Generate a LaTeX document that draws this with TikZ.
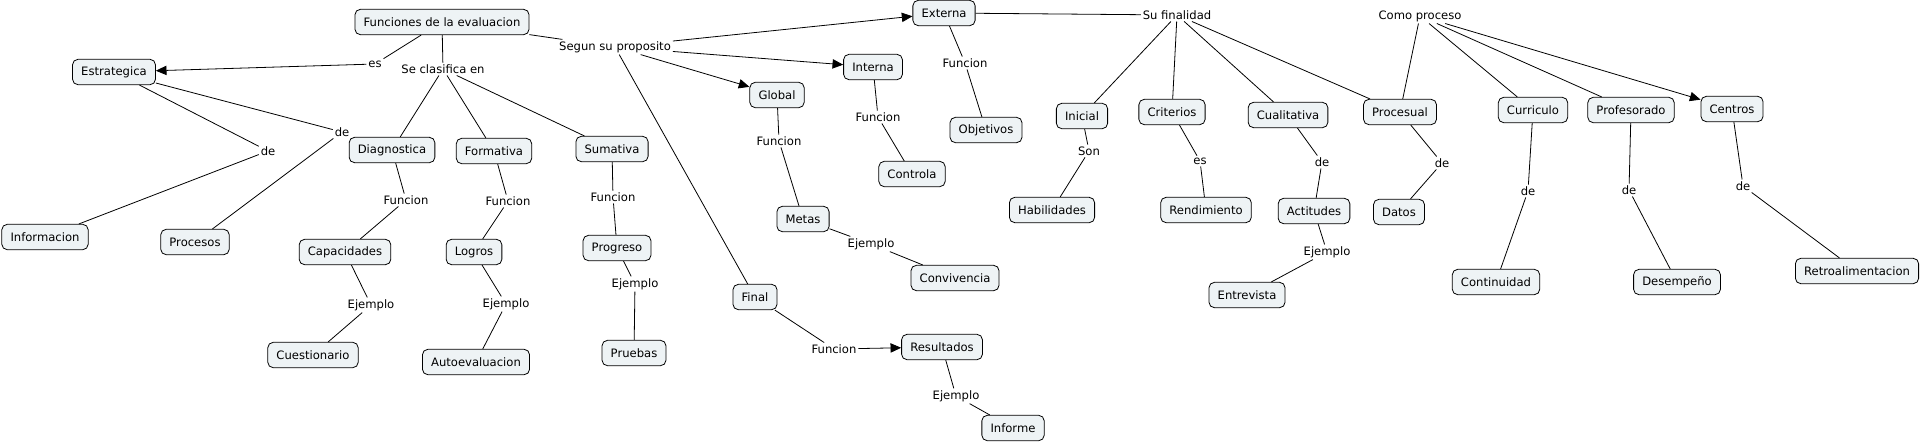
\documentclass[tikz,border=0pt]{standalone}
\usepackage{fontspec}
\setmainfont{DejaVu Sans}
\usetikzlibrary{arrows.meta}
\definecolor{conceptfill}{HTML}{EEF3F5}
\tikzset{
  concept/.style={draw, rounded corners=4pt, fill=conceptfill, inner xsep=6.5pt,
    inner ysep=2pt, minimum height=19pt, font=\fontsize{8.7}{10}\selectfont},
  linkword/.style={inner sep=1.2pt, font=\fontsize{8.7}{10}\selectfont},
  link/.style={draw, line width=0.6pt},
  tip/.style={-{Triangle[length=8pt, width=7pt]}}
}

\begin{document}
\begin{tikzpicture}[x=0.75pt, y=-0.75pt, line width=0.6pt]
    \useasboundingbox (0,0) rectangle (1922,444);

    % concepts
    \node [concept] (fun) at (442 , 22) {Funciones de la evaluacion};
    \node [concept] (estr) at (114 , 72) {Estrategica};
    \node [concept] (info) at (45 , 237) {Informacion};
    \node [concept] (proc) at (195 , 242) {Procesos};
    \node [concept] (diag) at (392 , 150) {Diagnostica};
    \node [concept] (form) at (494 , 151) {Formativa};
    \node [concept] (sum) at (612 , 149) {Sumativa};
    \node [concept] (capa) at (345 , 252) {Capacidades};
    \node [concept] (logr) at (474 , 252) {Logros};
    \node [concept] (prog) at (617 , 248) {Progreso};
    \node [concept] (cues) at (313 , 355) {Cuestionario};
    \node [concept] (auto) at (476 , 362) {Autoevaluacion};
    \node [concept] (prue) at (634 , 353) {Pruebas};
    \node [concept] (ext) at (944 , 13) {Externa};
    \node [concept] (inte) at (873 , 67) {Interna};
    \node [concept] (glob) at (777 , 95) {Global};
    \node [concept] (fina) at (755 , 297) {Final};
    \node [concept] (meta) at (803 , 219) {Metas};
    \node [concept] (conv) at (955 , 278) {Convivencia};
    \node [concept] (cont) at (912 , 174) {Controla};
    \node [concept] (obje) at (986 , 130) {Objetivos};
    \node [concept] (resu) at (942 , 347) {Resultados};
    \node [concept] (infm) at (1013 , 428) {Informe};
    \node [concept] (inic) at (1082 , 116) {Inicial};
    \node [concept] (crit) at (1172 , 112) {Criterios};
    \node [concept] (cual) at (1288 , 115) {Cualitativa};
    \node [concept] (prcs) at (1400 , 112) {Procesual};
    \node [concept] (habi) at (1052 , 210) {Habilidades};
    \node [concept] (rend) at (1206 , 210) {Rendimiento};
    \node [concept] (acti) at (1314 , 211) {Actitudes};
    \node [concept] (dato) at (1399 , 212) {Datos};
    \node [concept] (entr) at (1247 , 295) {Entrevista};
    \node [concept] (curr) at (1533 , 110) {Curriculo};
    \node [concept] (prof) at (1631 , 110) {Profesorado};
    \node [concept] (cent) at (1732 , 109) {Centros};
    \node [concept] (cnti) at (1496 , 282) {Continuidad};
    \node [concept] (dese) at (1677 , 282) {Desempeño};
    \node [concept] (retr) at (1857 , 271) {Retroalimentacion};

    % linking words
    \node [linkword] (lEs) at (375 , 64) {es};
    \node [linkword] (lClas) at (443 , 69) {Se clasifica en};
    \node [linkword] (lSegun) at (615 , 47) {Segun su proposito};
    \node [linkword] (lDeInfo) at (268 , 151) {de};
    \node [linkword] (lDeProc) at (342 , 132) {de};
    \node [linkword] (lFunDiag) at (406 , 200) {Funcion};
    \node [linkword] (lFunForm) at (508 , 201) {Funcion};
    \node [linkword] (lFunSum) at (613 , 197) {Funcion};
    \node [linkword] (lEjCapa) at (371 , 305) {Ejemplo};
    \node [linkword] (lEjLogr) at (506 , 304) {Ejemplo};
    \node [linkword] (lEjProg) at (635 , 284) {Ejemplo};
    \node [linkword] (lFunGlob) at (779 , 141) {Funcion};
    \node [linkword] (lFunInte) at (878 , 117) {Funcion};
    \node [linkword] (lFunExt) at (965 , 63) {Funcion};
    \node [linkword] (lEjMeta) at (871 , 244) {Ejemplo};
    \node [linkword] (lFunFina) at (834 , 349) {Funcion};
    \node [linkword] (lEjResu) at (956 , 396) {Ejemplo};
    \node [linkword] (lSuFin) at (1177 , 15) {Su finalidad};
    \node [linkword] (lSon) at (1089 , 151) {Son};
    \node [linkword] (lEsCrit) at (1200 , 161) {es};
    \node [linkword] (lDeCual) at (1322 , 162) {de};
    \node [linkword] (lDePrcs) at (1442 , 163) {de};
    \node [linkword] (lEjActi) at (1327 , 252) {Ejemplo};
    \node [linkword] (lComo) at (1420 , 16) {Como proceso};
    \node [linkword] (lDeCurr) at (1528 , 191) {de};
    \node [linkword] (lDeProf) at (1629 , 190) {de};
    \node [linkword] (lDeCent) at (1743 , 186) {de};

 \path[link]
      (fun) edge (lEs)
      (lEs) edge[tip] (estr)
      (fun) edge (lClas)
      (lClas) edge (diag)
      (lClas) edge (form)
      (lClas) edge (sum)
      (fun) edge (lSegun)
      (lSegun) edge[tip] (ext)
      (lSegun) edge[tip] (inte)
      (lSegun) edge[tip] (glob)
      (lSegun) edge (fina)
      (estr) edge (lDeInfo)
      (lDeInfo) edge (info)
      (estr) edge (lDeProc)
      (lDeProc) edge (proc)
      (diag) edge (lFunDiag)
      (lFunDiag) edge (capa)
      (capa) edge (lEjCapa)
      (lEjCapa) edge (cues)
      (form) edge (lFunForm)
      (lFunForm) edge (logr)
      (logr) edge (lEjLogr)
      (lEjLogr) edge (auto)
      (sum) edge (lFunSum)
      (lFunSum) edge (prog)
      (prog) edge (lEjProg)
      (lEjProg) edge (prue)
      (glob) edge (lFunGlob)
      (lFunGlob) edge (meta)
      (meta) edge (lEjMeta)
      (lEjMeta) edge (conv)
      (inte) edge (lFunInte)
      (lFunInte) edge (cont)
      (ext) edge (lFunExt)
      (lFunExt) edge (obje)
      (fina) edge (lFunFina)
      (lFunFina) edge[tip] (resu)
      (resu) edge (lEjResu)
      (lEjResu) edge (infm)
      (ext) edge (lSuFin)
      (lSuFin) edge (inic)
      (lSuFin) edge (crit)
      (lSuFin) edge (cual)
      (lSuFin) edge (prcs)
      (inic) edge (lSon)
      (lSon) edge (habi)
      (crit) edge (lEsCrit)
      (lEsCrit) edge (rend)
      (cual) edge (lDeCual)
      (lDeCual) edge (acti)
      (acti) edge (lEjActi)
      (lEjActi) edge (entr)
      (prcs) edge (lDePrcs)
      (lDePrcs) edge (dato)
      (lComo) edge (prcs)
      (lComo) edge (curr)
      (lComo) edge (prof)
      (lComo) edge[tip] (cent)
      (curr) edge (lDeCurr)
      (lDeCurr) edge (cnti)
      (prof) edge (lDeProf)
      (lDeProf) edge (dese)
      (cent) edge (lDeCent)
      (lDeCent) edge (retr);
\end{tikzpicture}
\end{document}
